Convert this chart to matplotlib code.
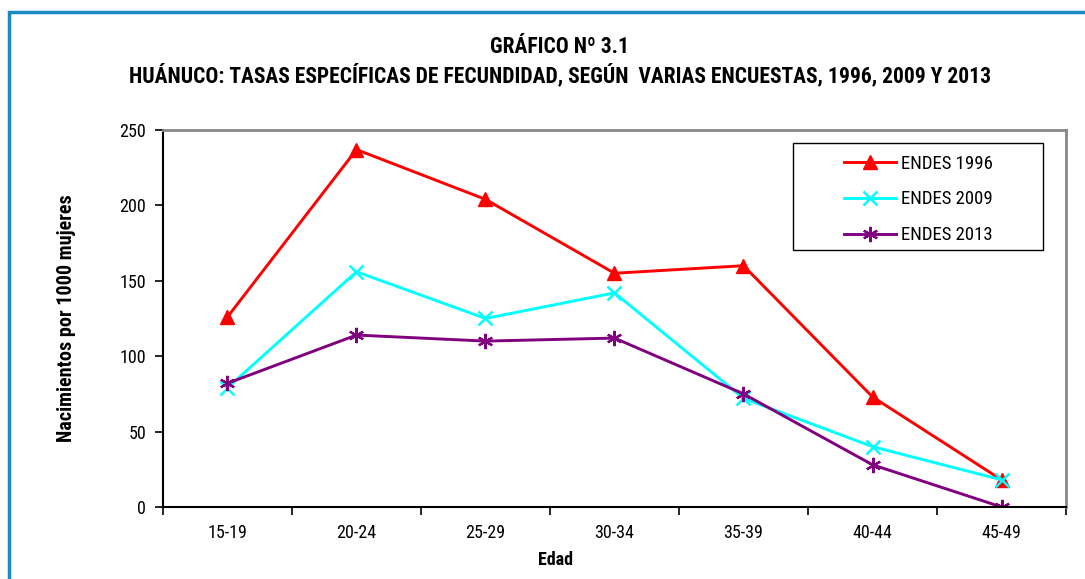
import matplotlib
matplotlib.use("Agg")
import matplotlib.pyplot as plt
from matplotlib.patches import Rectangle
from matplotlib import font_manager

names = {f.name for f in font_manager.fontManager.ttflist}
fam = ['Roboto Condensed', 'PT Sans Narrow', 'Liberation Sans', 'DejaVu Sans']
fam = [f for f in fam if f in names] or ['DejaVu Sans']
plt.rcParams['font.family'] = fam

categories = ['15-19', '20-24', '25-29', '30-34', '35-39', '40-44', '45-49']
endes_1996 = [126, 237, 204, 155, 160, 73, 18]
endes_2009 = [79, 156, 125, 142, 72, 40, 18]
endes_2013 = [82, 114, 110, 112, 75, 28, 0]
yticks = [0, 50, 100, 150, 200, 250]

fig = plt.figure(figsize=(10.85, 5.79), dpi=100)
ax = fig.add_axes([0.1502, 0.1244, 0.8323, 0.6511])

x = list(range(len(categories)))
ax.plot(x, endes_1996, color='#ff0000', lw=2.1, marker='^', ms=10, label='ENDES 1996')
ax.plot(x, endes_2009, color='#00ffff', lw=2.1, marker='x', ms=10, mew=1.8, label='ENDES 2009')
ax.plot(x, endes_2013, color='#800080', lw=2.1, marker=(6, 2, 0), ms=11, mew=1.6, label='ENDES 2013')

FS = 13
ax.set_xlim(-0.5, 6.5)
ax.set_ylim(0, 250)
ax.set_yticks(yticks)
ax.set_yticklabels([str(v) for v in yticks], fontsize=FS)
ax.set_xticks(x)
ax.set_xticklabels(categories, fontsize=FS)
ax.tick_params(axis='x', which='major', length=0, pad=12)
ax.set_xticks([i - 0.5 for i in range(len(categories) + 1)], minor=True)
ax.tick_params(axis='x', which='minor', length=6, width=1.2, direction='out')
ax.tick_params(axis='y', length=6, width=1.2, direction='out', pad=6)

for s in ['left', 'bottom']:
    ax.spines[s].set_color('black')
    ax.spines[s].set_linewidth(1.5)
for s in ['top', 'right']:
    ax.spines[s].set_color('#888888')
    ax.spines[s].set_linewidth(2.0)

ax.set_xlabel('Edad', fontsize=FS, fontweight='bold')
ax.xaxis.set_label_coords(0.435, -0.118)
ax.set_ylabel('Nacimientos por 1000 mujeres', fontsize=14.5, fontweight='bold')
ax.yaxis.set_label_coords(-0.096, 0.5)

# legend frame drawn separately (content centred inside)
box = Rectangle((0.698, 0.682), 0.277, 0.284, transform=ax.transAxes, fill=True,
                facecolor='white', edgecolor='black', linewidth=1.0, zorder=4)
ax.add_patch(box)
leg = ax.legend(loc='center', bbox_to_anchor=(0.8365, 0.816), bbox_transform=ax.transAxes,
                fontsize=13.5, frameon=False, handlelength=2.8, labelspacing=0.95,
                borderpad=0.2, handletextpad=0.25)
leg.set_zorder(5)

fig.text(0.516, 0.918, 'GRÁFICO Nº 3.1', ha='center', va='center', fontsize=15.5, fontweight='bold')
fig.text(0.516, 0.870, 'HUÁNUCO: TASAS ESPECÍFICAS DE FECUNDIDAD, SEGÚN  VARIAS ENCUESTAS, 1996, 2009 Y 2013',
         ha='center', va='center', fontsize=15.5, fontweight='bold')

frame = Rectangle((9 / 1085, -0.05), 1.2, 1 - 12 / 579 + 0.05, transform=fig.transFigure,
                  fill=False, edgecolor='#1a8ac4', linewidth=2.5, clip_on=False)
fig.patches.append(frame)

fig.savefig('out.png', dpi=100)
